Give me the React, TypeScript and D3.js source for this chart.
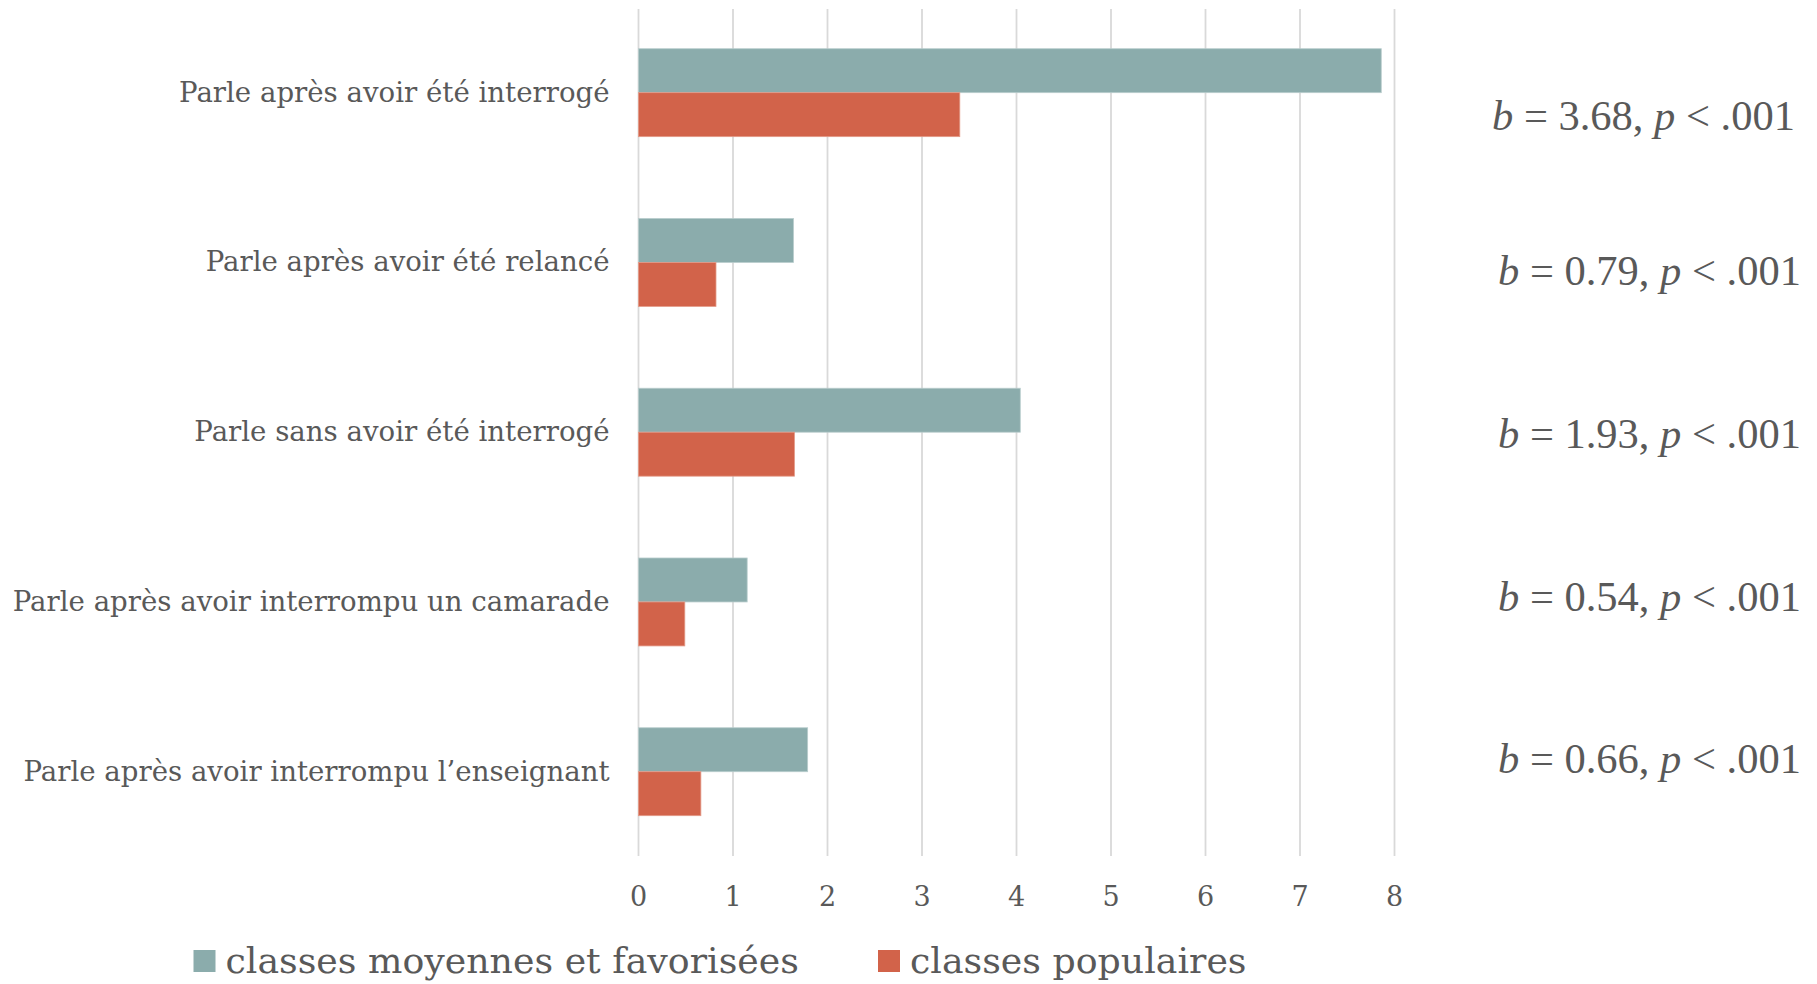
import React from "react";
import * as d3 from "d3";

const categories = [
  "Parle après avoir été interrogé",
  "Parle après avoir été relancé",
  "Parle sans avoir été interrogé",
  "Parle après avoir interrompu un camarade",
  "Parle après avoir interrompu l’enseignant",
];
const moyennes = [7.86, 1.64, 4.04, 1.15, 1.79];
const populaires = [3.40, 0.82, 1.65, 0.49, 0.66];
const seriesNames = ["classes moyennes et favorisées", "classes populaires"];
const seriesColors = ["#8BACAC", "#D2634A"];
const bValues = ["3.68", "0.79", "1.93", "0.54", "0.66"];
const pText = ".001";
const xTicks = [0, 1, 2, 3, 4, 5, 6, 7, 8];

// layout
const W = 1817;
const H = 984;
const plotLeft = 638.5;
const plotRight = 1394.5;
const plotTop = 7.8;
const plotBottom = 856.6;
const annX = [1492, 1498, 1498, 1498, 1498];
const annBaselines = [130, 285, 448, 611, 773];
const legendItemsX = [193.5, 878];
const legendY = 950;
const textColor = "#595959";
const labelFont = "'DejaVu Serif', Georgia, serif";

export default function App() {
  const x = d3.scaleLinear().domain([0, 8]).range([plotLeft, plotRight]);
  const y = d3
    .scaleBand<string>()
    .domain(categories)
    .range([plotTop, plotBottom])
    .paddingInner(0.482)
    .paddingOuter(0.241);
  const sub = d3
    .scaleBand<number>()
    .domain([0, 1])
    .range([0, y.bandwidth()])
    .padding(0);
  const series = [moyennes, populaires];

  return (
    <svg
      width={W}
      height={H}
      style={{ position: "fixed", left: 0, top: 0, background: "#fff" }}
    >
      {/* gridlines */}
      {xTicks.map((t) => (
        <line
          key={"g" + t}
          x1={x(t)}
          x2={x(t)}
          y1={9}
          y2={856}
          stroke="#D9D9D9"
          strokeWidth={1.8}
        />
      ))}
      {/* bars */}
      {series.map((vals, si) =>
        categories.map((c, ci) => (
          <rect
            key={`b${si}-${ci}`}
            x={x(0)}
            y={(y(c) as number) + (sub(si) as number)}
            width={x(vals[ci]) - x(0)}
            height={sub.bandwidth()}
            fill={seriesColors[si]}
            stroke={si === 0 ? "#B9CDCD" : "#E39A88"}
            strokeWidth={0.8}
          />
        ))
      )}
      {/* category labels */}
      {categories.map((c) => (
        <text
          key={"l" + c}
          x={609.5}
          y={(y(c) as number) + y.bandwidth() / 2 + 9}
          textAnchor="end"
          fontFamily={labelFont}
          fontSize={27.6}
          fill={textColor}
        >
          {c}
        </text>
      ))}
      {/* tick labels */}
      {xTicks.map((t) => (
        <text
          key={"t" + t}
          x={x(t)}
          y={906}
          textAnchor="middle"
          fontFamily={labelFont}
          fontSize={27}
          fill={textColor}
        >
          {t}
        </text>
      ))}
      {/* annotations */}
      {bValues.map((b, i) => (
        <text
          key={"a" + i}
          x={annX[i]}
          y={annBaselines[i]}
          fontFamily="'Liberation Serif', 'Times New Roman', serif"
          fontSize={42.5}
          fill={textColor}
        >
          <tspan fontStyle="italic">b</tspan>
          {` = ${b}, `}
          <tspan fontStyle="italic">p</tspan>
          {` < ${pText}`}
        </text>
      ))}
      {/* legend */}
      {seriesNames.map((n, i) => (
        <g key={"lg" + i}>
          <rect
            x={legendItemsX[i]}
            y={legendY}
            width={22}
            height={22}
            fill={seriesColors[i]}
          />
          <text
            x={legendItemsX[i] + 32}
            y={legendY + 23}
            fontFamily={labelFont}
            fontSize={36.3}
            fill={textColor}
          >
            {n}
          </text>
        </g>
      ))}
    </svg>
  );
}
